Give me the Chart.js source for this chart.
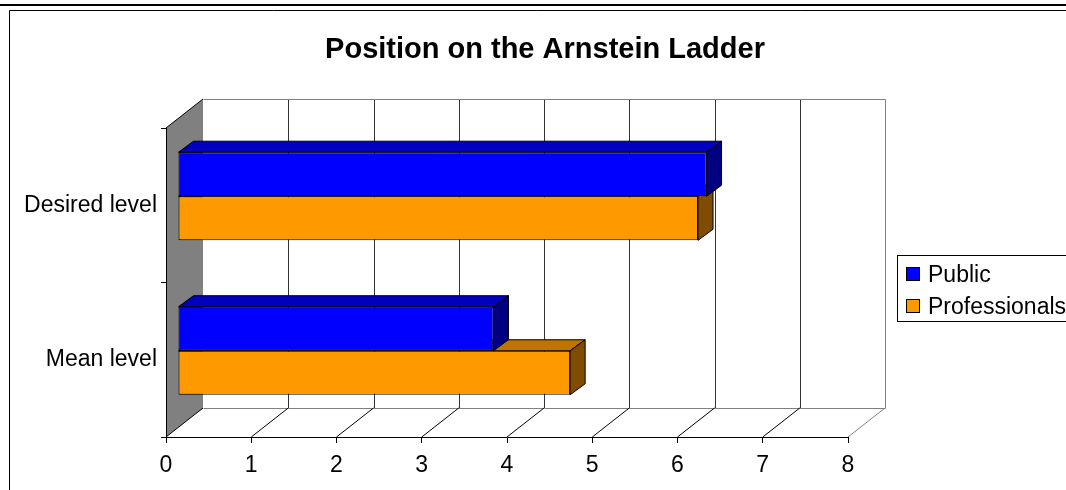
<!DOCTYPE html>
<html>
<head>
<meta charset="utf-8">
<title>Position on the Arnstein Ladder</title>
<script src="https://cdn.jsdelivr.net/npm/chart.js@4.4.1/dist/chart.umd.min.js"></script>
<style>
  html, body { margin: 0; padding: 0; background: #fff; }
  #wrap { width: 1066px; height: 490px; }
</style>
</head>
<body>
<div id="wrap"><canvas id="ladderChart" width="1066" height="490"></canvas></div>
<script>
// data
const categories = ['Desired level', 'Mean level'];
const seriesNames = ['Public', 'Professionals'];
const publicLevel = [6.2, 3.7];
const professionalsLevel = [6.1, 4.6];
const axisMin = 0;
const axisMax = 8;
const axisStep = 1;
const chartTitle = 'Position on the Arnstein Ladder';

const FONT = '"Liberation Sans", Arial, sans-serif';

// darken a #rrggbb colour for the top / side faces of a bar
function shade(hex, f) {
  const n = parseInt(hex.slice(1), 16);
  const r = Math.round(((n >> 16) & 255) * f);
  const g = Math.round(((n >> 8) & 255) * f);
  const b = Math.round((n & 255) * f);
  return `rgb(${r},${g},${b})`;
}

const half = v => Math.round(v) + 0.5;

const excel3d = {
  id: 'excel3d',

  beforeDraw(chart, args, opts) {
    const { ctx, chartArea: a, scales: { x } } = chart;
    const { dx, dy } = opts.depth;
    ctx.save();

    // page frame
    ctx.fillStyle = '#000';
    ctx.fillRect(0, 4, chart.width, 2);
    ctx.strokeStyle = '#000';
    ctx.lineWidth = 1;
    ctx.beginPath();
    ctx.moveTo(9.5, chart.height);
    ctx.lineTo(9.5, 10.5);
    ctx.lineTo(chart.width, 10.5);
    ctx.stroke();

    const L = a.left, R = a.right, T = a.top, B = a.bottom;

    // back wall + gridlines
    ctx.strokeStyle = '#333';
    for (let v = axisMin + axisStep; v < axisMax; v += axisStep) {
      const gx = half(x.getPixelForValue(v) + dx);
      ctx.beginPath();
      ctx.moveTo(gx, T + dy);
      ctx.lineTo(gx, B + dy);
      ctx.stroke();
    }
    ctx.strokeStyle = '#808080';
    ctx.beginPath();
    ctx.moveTo(half(L + dx), half(T + dy));
    ctx.lineTo(half(R + dx), half(T + dy));
    ctx.lineTo(half(R + dx), half(B + dy));
    ctx.stroke();

    // side wall
    ctx.fillStyle = '#808080';
    ctx.beginPath();
    ctx.moveTo(L, T);
    ctx.lineTo(L + dx, T + dy);
    ctx.lineTo(L + dx, B + dy);
    ctx.lineTo(L, B);
    ctx.closePath();
    ctx.fill();
    ctx.strokeStyle = '#000';
    ctx.beginPath();
    ctx.moveTo(L, T);
    ctx.lineTo(L + dx, T + dy);
    ctx.stroke();

    // floor
    ctx.strokeStyle = '#808080';
    ctx.beginPath();
    ctx.moveTo(half(L + dx), half(B + dy));
    ctx.lineTo(half(R + dx), half(B + dy));
    ctx.stroke();
    for (let v = axisMin; v <= axisMax; v += axisStep) {
      const fx = x.getPixelForValue(v);
      ctx.strokeStyle = v === axisMax ? '#808080' : '#000';
      ctx.beginPath();
      ctx.moveTo(fx, B);
      ctx.lineTo(fx + dx, B + dy);
      ctx.stroke();
    }

    // title
    ctx.fillStyle = '#000';
    ctx.font = `bold 29px ${FONT}`;
    ctx.textAlign = 'center';
    ctx.textBaseline = 'alphabetic';
    ctx.fillText(chartTitle, opts.titleX, opts.titleY);

    // legend
    const lg = opts.legend;
    ctx.strokeStyle = '#000';
    ctx.strokeRect(lg.x + 0.5, lg.y + 0.5, lg.w, lg.h);
    ctx.font = `23px ${FONT}`;
    ctx.textAlign = 'left';
    chart.data.datasets.forEach((ds, i) => {
      const cy = lg.y + lg.firstRow + i * lg.rowGap;
      ctx.fillStyle = ds.backgroundColor;
      ctx.fillRect(lg.x + 9, cy - 7, 13, 13);
      ctx.strokeRect(lg.x + 9.5, cy - 6.5, 13, 13);
      ctx.fillStyle = '#000';
      ctx.fillText(ds.label, lg.x + 31, cy + 8);
    });

    ctx.restore();
  },

  beforeDatasetsDraw(chart, args, opts) {
    chart.ctx.save();
    chart.ctx.translate(opts.barShift.dx, opts.barShift.dy);
  },

  afterDatasetDraw(chart, args, opts) {
    const { ctx } = chart;
    const ds = chart.data.datasets[args.index];
    const { dx, dy } = opts.barDepth;
    ctx.save();
    ctx.strokeStyle = '#000';
    ctx.lineWidth = 1;
    args.meta.data.forEach(bar => {
      const { x, y, base, height } = bar.getProps(['x', 'y', 'base', 'height'], true);
      const top = y - height / 2, bottom = y + height / 2;
      // top face
      ctx.fillStyle = shade(ds.backgroundColor, 0.75);
      ctx.beginPath();
      ctx.moveTo(base, top);
      ctx.lineTo(base + dx, top + dy);
      ctx.lineTo(x + dx, top + dy);
      ctx.lineTo(x, top);
      ctx.closePath();
      ctx.fill();
      ctx.stroke();
      // end face
      ctx.fillStyle = shade(ds.backgroundColor, 0.5);
      ctx.beginPath();
      ctx.moveTo(x, top);
      ctx.lineTo(x + dx, top + dy);
      ctx.lineTo(x + dx, bottom + dy);
      ctx.lineTo(x, bottom);
      ctx.closePath();
      ctx.fill();
      ctx.stroke();
    });
    ctx.restore();
  },

  afterDatasetsDraw(chart) {
    chart.ctx.restore();
  }
};

const ladderChart = new Chart(document.getElementById('ladderChart'), {
  type: 'bar',
  data: {
    labels: categories,
    datasets: [
      { label: seriesNames[0], data: publicLevel, backgroundColor: '#0000ff' },
      { label: seriesNames[1], data: professionalsLevel, backgroundColor: '#ff9900' }
    ]
  },
  options: {
    indexAxis: 'y',
    responsive: false,
    animation: false,
    devicePixelRatio: 1,
    layout: { padding: { left: 0, top: 128, right: 218, bottom: 0 } },
    datasets: {
      bar: {
        borderColor: '#000',
        borderWidth: 1,
        borderSkipped: false,
        categoryPercentage: 0.57,
        barPercentage: 1,
        clip: false
      }
    },
    scales: {
      x: {
        type: 'linear',
        min: axisMin,
        max: axisMax,
        afterFit: s => { s.height = 53; },
        ticks: { stepSize: axisStep, color: '#000', padding: 9, maxRotation: 0, font: { family: FONT, size: 23 } },
        grid: { drawOnChartArea: false, tickLength: 6, color: '#000' },
        border: { display: true, color: '#000' }
      },
      y: {
        afterFit: s => { s.width = 166; },
        ticks: { color: '#000', padding: 4, font: { family: FONT, size: 23 } },
        grid: { offset: true, drawOnChartArea: false, tickLength: 5, color: '#000' },
        border: { display: true, color: '#000' }
      }
    },
    plugins: {
      legend: { display: false },
      title: { display: false },
      tooltip: { enabled: false },
      excel3d: {
        depth: { dx: 37, dy: -29 },
        barShift: { dx: 12, dy: -9 },
        barDepth: { dx: 15, dy: -11 },
        titleX: 545,
        titleY: 58,
        legend: { x: 897, y: 255, w: 200, h: 66, firstRow: 19, rowGap: 32 }
      }
    }
  },
  plugins: [excel3d]
});
</script>
</body>
</html>
